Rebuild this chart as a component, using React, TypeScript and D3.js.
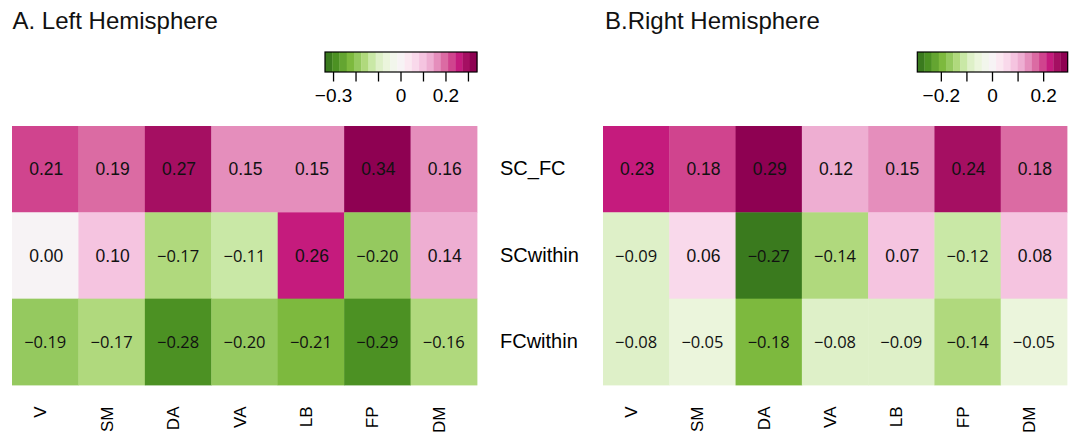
import React from "react";
import * as d3 from "d3";

const columns = ["V", "SM", "DA", "VA", "LB", "FP", "DM"];
const rows = ["SC_FC", "SCwithin", "FCwithin"];

// Left hemisphere values (rows x columns)
const leftSCFC = [0.211, 0.19, 0.274, 0.15, 0.15, 0.338, 0.16];
const leftSCwithin = [0.0, 0.1, -0.17, -0.113, 0.26, -0.2, 0.14];
const leftFCwithin = [-0.19, -0.17, -0.28, -0.2, -0.211, -0.29, -0.16];

// Right hemisphere values
const rightSCFC = [0.23, 0.183, 0.294, 0.12, 0.15, 0.24, 0.18];
const rightSCwithin = [-0.09, 0.06, -0.27, -0.14, 0.071, -0.12, 0.08];
const rightFCwithin = [-0.08, -0.05, -0.183, -0.08, -0.09, -0.14, -0.05];

// 21-step PiYG-like palette (green = negative, pink = positive)
const palette = [
  "#3a7a1e", "#4c9123", "#64a531", "#7db93e", "#95c95f", "#b0d97d", "#c9e8a6",
  "#def0c8", "#ebf5dc", "#f2f6ec", "#f7f3f5", "#fbe8f1", "#f9d9eb", "#f5c4e0",
  "#eeaed2", "#e58ebc", "#db6ba3", "#d0448e", "#c51b7d", "#a50f62", "#8e0152",
];

const leftTicks = [-0.3, -0.2, -0.1, 0, 0.1, 0.2, 0.3];
const leftTickLabels = [-0.3, 0, 0.2];
const rightTicks = [-0.2, -0.1, 0, 0.1, 0.2];
const rightTickLabels = [-0.2, 0, 0.2];

const fmtNum = (v: number) => {
  const s = Math.abs(v).toFixed(2);
  return v < 0 && s !== "0.00" ? "\u2212" + s : s;
};
const fmtTick = (v: number) => (v < 0 ? "\u2212" + Math.abs(v) : String(v));

const TOP = 126;
const BOTTOM = 385;

function Panel({
  title, titleX, x0, x1, data, ticks, tickLabels, legX0, legX1,
}: {
  title: string; titleX: number; x0: number; x1: number; data: number[][];
  ticks: number[]; tickLabels: number[]; legX0: number; legX1: number;
}) {
  const M = d3.max(data.flat(), (d) => Math.abs(d)) as number;
  const color = d3.scaleQuantize<string>().domain([-M, M]).range(palette);
  const xs = d3.scaleBand<string>().domain(columns).range([x0, x1]);
  const ys = d3.scaleBand<string>().domain(rows).range([TOP, BOTTOM]);
  const lx = d3.scaleLinear().domain([-M, M]).range([legX0, legX1]);
  const legY0 = 52;
  const legY1 = 72;
  return (
    <g>
      <text x={titleX} y={29} fontFamily="Liberation Sans, Arial, sans-serif" fontSize={24} fill="#111">
        {title}
      </text>
      {/* legend */}
      {palette.map((c, i) => {
        const [a, b] = color.invertExtent(c);
        return (
          <rect key={i} x={lx(a)} y={legY0} width={lx(b) - lx(a) + 0.3} height={legY1 - legY0} fill={c} />
        );
      })}
      <rect x={legX0} y={legY0} width={legX1 - legX0} height={legY1 - legY0} fill="none" stroke="#000" strokeWidth={1.2} />
      {ticks.map((t) => (
        <line key={t} x1={lx(t)} x2={lx(t)} y1={legY1} y2={legY1 + 9.5} stroke="#000" strokeWidth={1.3} />
      ))}
      {tickLabels.map((t) => (
        <text key={t} x={lx(t)} y={101.5} textAnchor="middle" fontFamily="Liberation Sans, Arial, sans-serif" fontSize={19} fill="#000">
          {fmtTick(t)}
        </text>
      ))}
      {/* cells */}
      {rows.map((r, ri) =>
        columns.map((c, ci) => {
          const v = data[ri][ci];
          const cx = (xs(c) as number) + xs.bandwidth() / 2;
          const cy = (ys(r) as number) + ys.bandwidth() / 2;
          return (
            <g key={r + c}>
              <rect x={xs(c)} y={ys(r)} width={xs.bandwidth() + 0.4} height={ys.bandwidth() + 0.4} fill={color(v)} />
              {v < 0 ? (
                <text x={cx} y={cy + 6.5} textAnchor="middle" fontFamily="Open Sans, sans-serif" fontSize={16.5} fill="#111">
                  {fmtNum(v)}
                </text>
              ) : (
                <text x={cx + 1} y={cy + 6.2} textAnchor="middle" fontFamily="Liberation Sans, Arial, sans-serif" fontSize={17.5} fill="#111">
                  {fmtNum(v)}
                </text>
              )}
            </g>
          );
        })
      )}
      {columns.map((c) => {
        const cx = (xs(c) as number) + xs.bandwidth() / 2 + 1;
        return (
          <text key={c} transform={`translate(${cx},406.5) rotate(-90)`} textAnchor="end" fontFamily="Liberation Sans, Arial, sans-serif" fontSize={17} fill="#000">
            {c}
          </text>
        );
      })}
    </g>
  );
}

export default function App() {
  const ys = d3.scaleBand<string>().domain(rows).range([TOP, BOTTOM]);
  return (
    <svg width={1072} height={433} style={{ position: "absolute", left: 0, top: 0, background: "#fff" }}>
      <rect width={1072} height={433} fill="#fff" />
      <Panel
        title="A. Left Hemisphere" titleX={12.5} x0={12} x1={477}
        data={[leftSCFC, leftSCwithin, leftFCwithin]}
        ticks={leftTicks} tickLabels={leftTickLabels} legX0={325} legX1={477}
      />
      <Panel
        title="B.Right Hemisphere" titleX={605} x0={603} x1={1067}
        data={[rightSCFC, rightSCwithin, rightFCwithin]}
        ticks={rightTicks} tickLabels={rightTickLabels} legX0={917.3} legX1={1067.7}
      />
      {rows.map((r) => (
        <text key={r} x={500} y={(ys(r) as number) + ys.bandwidth() / 2 + 6} fontFamily="Liberation Sans, Arial, sans-serif" fontSize={20} fill="#000">
          {r}
        </text>
      ))}
    </svg>
  );
}
